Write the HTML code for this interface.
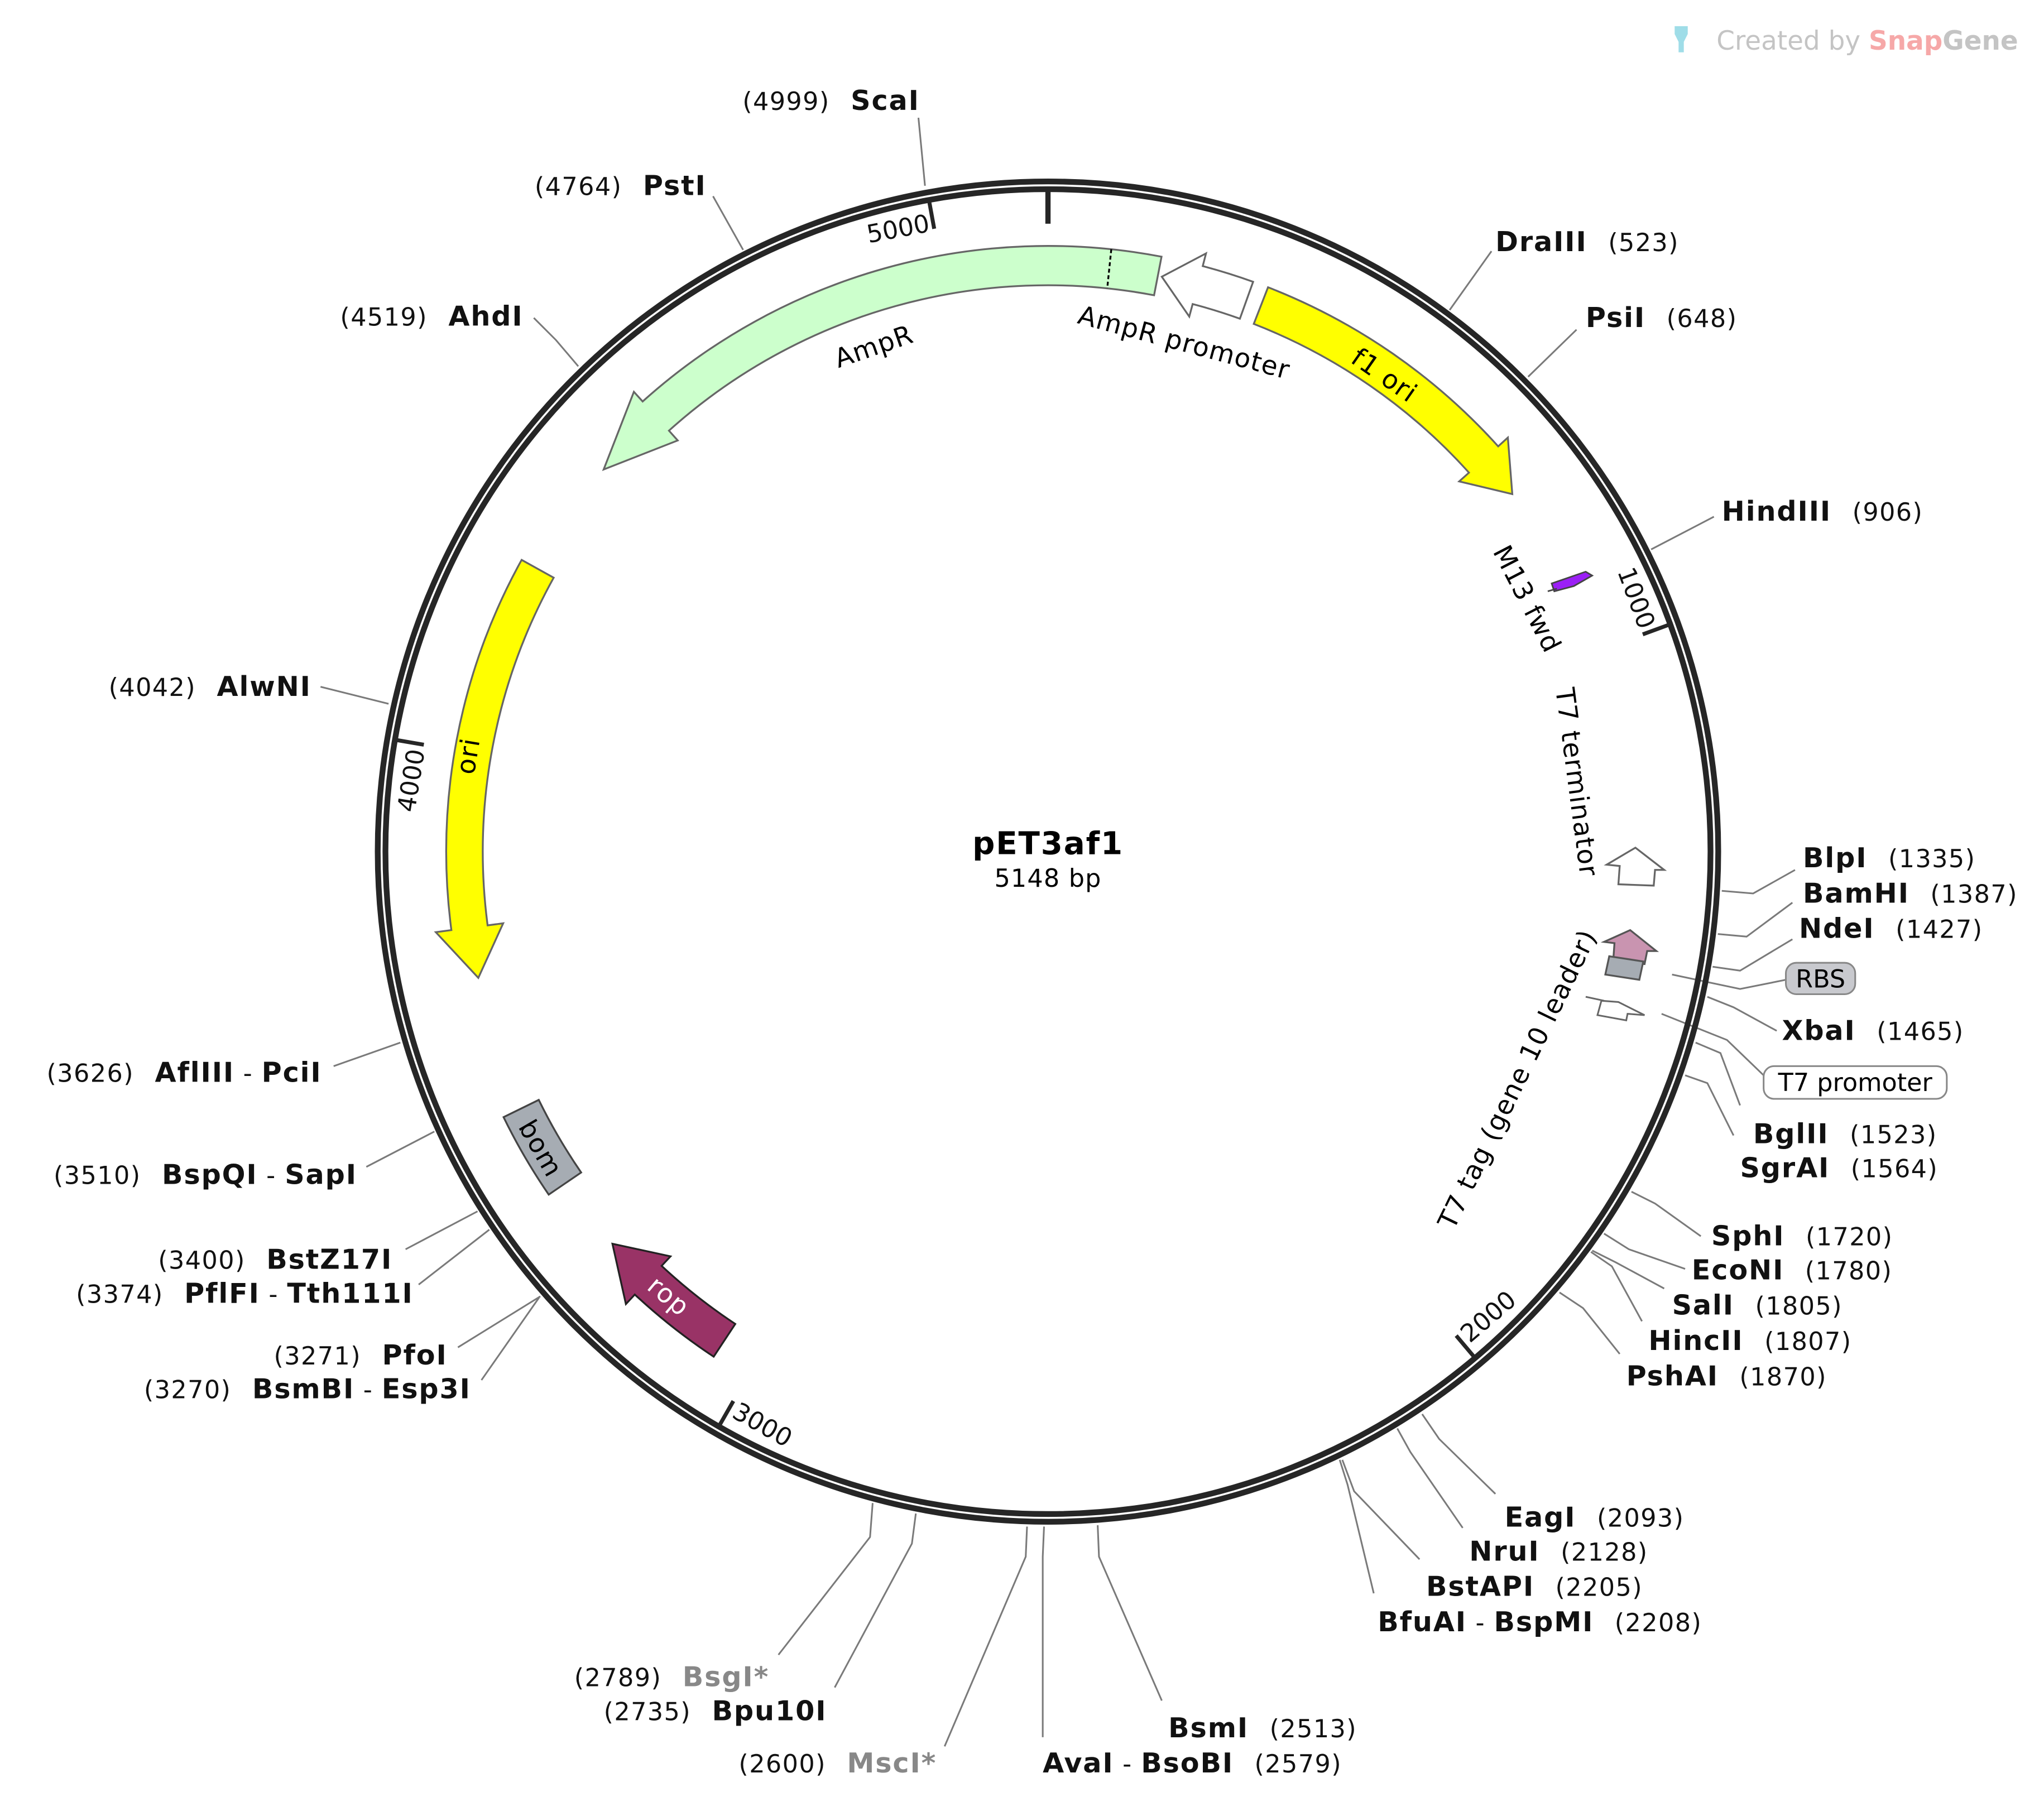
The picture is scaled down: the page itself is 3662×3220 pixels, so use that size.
<!DOCTYPE html>
<html><head><meta charset="utf-8"><style>
html,body{margin:0;padding:0;background:#fff;}
svg{display:block;}
text{font-family:"DejaVu Sans","Liberation Sans",sans-serif;}
.n{font-size:19px;fill:#111;letter-spacing:0.6px;}
.b{font-weight:bold;font-size:21px;letter-spacing:0.8px;}
.ln{stroke:#7a7a7a;stroke-width:1.3;fill:none;}
.ft{font-size:20px;letter-spacing:0.6px;}
</style></head><body>
<svg width="3662" height="3220" viewBox="0 0 1562.3 1373.7" xmlns="http://www.w3.org/2000/svg">
<rect width="1562.3" height="1373.7" fill="#fff"/>
<!-- logo -->
<path d="M1280 20 h10 v6 l-3 6 v8 h-4 v-8 l-3 -6z" fill="#9fdde8"/>
<text x="1312" y="38" style="font-size:20px" fill="#c4c4c4">Created by <tspan fill="#f6a8a8" font-weight="bold">Snap</tspan><tspan fill="#c4c4c4" font-weight="bold">Gene</tspan></text>

<!-- enzyme lines -->
<g class="ln">
<polyline points="707,142 702,90"/>
<polyline points="568,191 545,150"/>
<polyline points="442,280 425,260 408,243"/>
<polyline points="297,538 245,525"/>
<polyline points="306,797 255,815"/>
<polyline points="332,865 280,892"/>
<polyline points="365,926 310,955"/>
<polyline points="374,940 320,982"/>
<polyline points="413,991 350,1030"/>
<polyline points="412,992 368,1055"/>
<polyline points="667,1149 665,1175 595,1265"/>
<polyline points="700,1157 697,1180 638,1290"/>
<polyline points="785,1167 784,1190 722,1335"/>
<polyline points="798,1167 797,1190 797,1328"/>
<polyline points="839,1166 840,1190 888,1300"/>
<polyline points="1024,1116 1030,1135 1050,1218"/>
<polyline points="1026,1116 1035,1140 1085,1192"/>
<polyline points="1068,1092 1078,1110 1118,1168"/>
<polyline points="1087,1081 1100,1100 1143,1142"/>
<polyline points="1192,988 1210,1000 1238,1035"/>
<polyline points="1216,957 1232,968 1255,1010"/>
<polyline points="1217,956 1235,965 1272,985"/>
<polyline points="1226,943 1245,955 1288,970"/>
<polyline points="1247,911 1265,920 1300,945"/>
<polyline points="1288,822 1305,828 1325,868"/>
<polyline points="1296,797 1315,805 1330,845"/>
<polyline points="1270,775 1320,795 1348,822"/>
<polyline points="1305,762 1325,770 1358,788"/>
<polyline points="1278,745 1330,756 1365,749"/>
<polyline points="1309,739 1330,742 1370,718"/>
<polyline points="1313,714 1335,716 1370,690"/>
<polyline points="1316,681 1340,683 1372,665"/>
<polyline points="1262,420 1310,395"/>
<polyline points="1168,288 1205,252"/>
<polyline points="1108,237 1140,192"/>
</g>

<!-- ring -->
<circle cx="801" cy="651" r="512.3" fill="none" stroke="#262626" stroke-width="4.4"/>
<circle cx="801" cy="651" r="506.4" fill="none" stroke="#262626" stroke-width="4.4"/>

<g transform="translate(801,651)">
<!-- ticks -->
<line x1="0" y1="-505" x2="0" y2="-480" stroke="#262626" stroke-width="4"/>
<g stroke="#262626" stroke-width="3">
<line transform="rotate(69.93)" x1="0" y1="-505" x2="0" y2="-484"/>
<line transform="rotate(139.86)" x1="0" y1="-505" x2="0" y2="-484"/>
<line transform="rotate(209.79)" x1="0" y1="-505" x2="0" y2="-484"/>
<line transform="rotate(279.72)" x1="0" y1="-505" x2="0" y2="-484"/>
<line transform="rotate(349.65)" x1="0" y1="-505" x2="0" y2="-484"/>
</g>
<g style="font-size:19px" fill="#111" dominant-baseline="central">
<g transform="rotate(349.3)"><text x="0" y="-489" text-anchor="end">5000</text></g>
<g transform="rotate(69.5)"><text x="0" y="-489" text-anchor="end">1000</text></g>
<g transform="rotate(139.4)"><text x="0" y="-489" text-anchor="start" transform="rotate(180 0 -489)">2000</text></g>
<g transform="rotate(209.3)"><text x="0" y="-489" text-anchor="start" transform="rotate(180 0 -489)">3000</text></g>
<g transform="rotate(279.2)"><text x="0" y="-489" text-anchor="end">4000</text></g>
</g>

<!-- features -->
<path d="M86.8 -454.8 A463 463 0 0 0 -309.8 -344.1 L-316.5 -351.5 L-339.6 -292.1 L-283.0 -314.3 L-289.7 -321.8 A433 433 0 0 1 81.1 -425.3 Z" fill="#ccffcc" stroke="#666" stroke-width="1.4"/>
<line x1="48.4" y1="-460.5" x2="45.3" y2="-430.6" stroke="#000" stroke-width="1.4" stroke-dasharray="3,2"/>
<path d="M156.8 -435.6 A463 463 0 0 0 118.3 -447.6 L120.8 -457.3 L87.0 -439.5 L108.0 -409.0 L110.6 -418.6 A433 433 0 0 1 146.7 -407.4 Z" fill="#fff" stroke="#666" stroke-width="1.4"/>
<path d="M168.2 -431.4 A463 463 0 0 1 344.1 -309.8 L351.5 -316.5 L354.9 -273.3 L314.3 -283.0 L321.8 -289.7 A433 433 0 0 0 157.3 -403.4 Z" fill="#ffff00" stroke="#666" stroke-width="1.4"/>
<path d="M-402.3 -223.0 A460 460 0 0 0 -456.0 60.0 L-467.9 61.6 L-435.4 96.5 L-416.4 54.8 L-428.3 56.4 A432 432 0 0 1 -377.8 -209.4 Z" fill="#ffff00" stroke="#666" stroke-width="1.4"/>
<path d="M-416.1 203.0 A463 463 0 0 0 -381.6 262.2 L-356.8 245.3 A433 433 0 0 1 -389.2 189.8 Z" fill="#a6acb3" stroke="#444" stroke-width="1.4"/>
<path d="M-255.5 386.1 A463 463 0 0 1 -315.8 338.6 L-322.6 345.9 L-332.9 299.8 L-288.5 309.4 L-295.3 316.7 A433 433 0 0 0 -239.0 361.1 Z" fill="#993366" stroke="#222" stroke-width="1.4"/>

<!-- feature labels -->
<text class="ft" fill="#000" transform="translate(-133,-386) rotate(-19)" text-anchor="middle" dominant-baseline="central">AmpR</text>
<text class="ft" fill="#000" transform="translate(104,-389) rotate(15)" text-anchor="middle" dominant-baseline="central">AmpR promoter</text>
<text class="ft" fill="#000" transform="translate(257,-364) rotate(35)" text-anchor="middle" dominant-baseline="central">f1 ori</text>
<text class="ft" fill="#000" transform="translate(-443,-73) rotate(-80.6)" text-anchor="middle" dominant-baseline="central">ori</text>
<text class="ft" fill="#000" transform="translate(-388,227) rotate(60)" text-anchor="middle" dominant-baseline="central">bom</text>
<text class="ft" style="fill:#fff" transform="translate(-290,340) rotate(40)" text-anchor="middle" dominant-baseline="central">rop</text>
<text class="ft" fill="#000" transform="translate(366,-193) rotate(62.7)" text-anchor="middle" dominant-baseline="central">M13 fwd</text>
<text class="ft" fill="#000" transform="translate(404,-53) rotate(82.5)" text-anchor="middle" dominant-baseline="central">T7 terminator</text>
<text class="ft" fill="#000" transform="translate(359,174) rotate(-64.1)" text-anchor="middle" dominant-baseline="central">T7 tag (gene 10 leader)</text>
</g>

<!-- small features -->
<polygon points="1186,446 1212,437 1217,440 1203,448 1188,452" fill="#9b1ff5" stroke="#444" stroke-width="1.2"/>
<line x1="1183" y1="452" x2="1190" y2="450" stroke="#444" stroke-width="1.2"/>
<polygon points="1228,661 1250,648 1272,665 1265,665 1264,677 1237,676 1238,662" fill="#fff" stroke="#666" stroke-width="1.4"/>
<polygon points="1226,720 1246,711 1266,727 1259,727 1257,737 1233,735 1234,721" fill="#c994b0" stroke="#555" stroke-width="1.4"/>
<polygon points="1230,731 1256,735 1253,749 1227,745" fill="#a6acb3" stroke="#555" stroke-width="1.4"/>
<polygon points="1224,765 1237,766 1257,776 1244,775 1243,780 1221,776" fill="#fff" stroke="#666" stroke-width="1.3"/>
<line x1="1212" y1="762" x2="1226" y2="765" stroke="#666" stroke-width="1.3"/>

<!-- center -->
<text x="801" y="653" text-anchor="middle" style="font-size:24px;font-weight:bold;letter-spacing:0.8px">pET3af1</text>
<text x="801" y="678" text-anchor="middle" style="font-size:19px;letter-spacing:0.5px">5148 bp</text>

<!-- left labels -->
<g class="n" text-anchor="end">
<text x="703" y="84">(4999)<tspan dx="16" class="b">ScaI</tspan></text>
<text x="540" y="149">(4764)<tspan dx="16" class="b">PstI</tspan></text>
<text x="400" y="249">(4519)<tspan dx="16" class="b">AhdI</tspan></text>
<text x="238" y="532">(4042)<tspan dx="16" class="b">AlwNI</tspan></text>
<text x="246" y="827">(3626)<tspan dx="16" class="b">AflIII</tspan> - <tspan class="b">PciI</tspan></text>
<text x="273" y="905">(3510)<tspan dx="16" class="b">BspQI</tspan> - <tspan class="b">SapI</tspan></text>
<text x="300" y="970">(3400)<tspan dx="16" class="b">BstZ17I</tspan></text>
<text x="316" y="996">(3374)<tspan dx="16" class="b">PflFI</tspan> - <tspan class="b">Tth111I</tspan></text>
<text x="342" y="1043">(3271)<tspan dx="16" class="b">PfoI</tspan></text>
<text x="360" y="1069">(3270)<tspan dx="16" class="b">BsmBI</tspan> - <tspan class="b">Esp3I</tspan></text>
<text x="588" y="1289">(2789)<tspan dx="16" class="b" style="fill:#888">BsgI*</tspan></text>
<text x="632" y="1315">(2735)<tspan dx="16" class="b">Bpu10I</tspan></text>
<text x="716" y="1355">(2600)<tspan dx="16" class="b" style="fill:#888">MscI*</tspan></text>
</g>
<!-- right labels -->
<g class="n">
<text x="797" y="1355"><tspan class="b">AvaI</tspan> - <tspan class="b">BsoBI</tspan><tspan dx="16">(2579)</tspan></text>
<text x="893" y="1328"><tspan class="b">BsmI</tspan><tspan dx="16">(2513)</tspan></text>
<text x="1053" y="1247"><tspan class="b">BfuAI</tspan> - <tspan class="b">BspMI</tspan><tspan dx="16">(2208)</tspan></text>
<text x="1090" y="1220"><tspan class="b">BstAPI</tspan><tspan dx="16">(2205)</tspan></text>
<text x="1123" y="1193"><tspan class="b">NruI</tspan><tspan dx="16">(2128)</tspan></text>
<text x="1150" y="1167"><tspan class="b">EagI</tspan><tspan dx="16">(2093)</tspan></text>
<text x="1243" y="1059"><tspan class="b">PshAI</tspan><tspan dx="16">(1870)</tspan></text>
<text x="1260" y="1032"><tspan class="b">HincII</tspan><tspan dx="16">(1807)</tspan></text>
<text x="1278" y="1005"><tspan class="b">SalI</tspan><tspan dx="16">(1805)</tspan></text>
<text x="1293" y="978"><tspan class="b">EcoNI</tspan><tspan dx="16">(1780)</tspan></text>
<text x="1308" y="952"><tspan class="b">SphI</tspan><tspan dx="16">(1720)</tspan></text>
<text x="1330" y="900"><tspan class="b">SgrAI</tspan><tspan dx="16">(1564)</tspan></text>
<text x="1340" y="874"><tspan class="b">BglII</tspan><tspan dx="16">(1523)</tspan></text>
<text x="1362" y="795"><tspan class="b">XbaI</tspan><tspan dx="16">(1465)</tspan></text>
<text x="1375" y="717"><tspan class="b">NdeI</tspan><tspan dx="16">(1427)</tspan></text>
<text x="1378" y="690"><tspan class="b">BamHI</tspan><tspan dx="16">(1387)</tspan></text>
<text x="1378" y="663"><tspan class="b">BlpI</tspan><tspan dx="16">(1335)</tspan></text>
<text x="1316" y="398"><tspan class="b">HindIII</tspan><tspan dx="16">(906)</tspan></text>
<text x="1212" y="250"><tspan class="b">PsiI</tspan><tspan dx="16">(648)</tspan></text>
<text x="1143" y="192"><tspan class="b">DraIII</tspan><tspan dx="16">(523)</tspan></text>
</g>
<!-- boxed labels -->
<rect x="1365" y="736" width="53" height="24" rx="8" fill="#c8c9ce" stroke="#888" stroke-width="1.3"/>
<text x="1391.5" y="755" text-anchor="middle" style="font-size:19px">RBS</text>
<rect x="1348" y="815" width="140" height="25" rx="8" fill="#fff" stroke="#888" stroke-width="1.3"/>
<text x="1418" y="834" text-anchor="middle" style="font-size:19px">T7 promoter</text>
</svg>
</body></html>
